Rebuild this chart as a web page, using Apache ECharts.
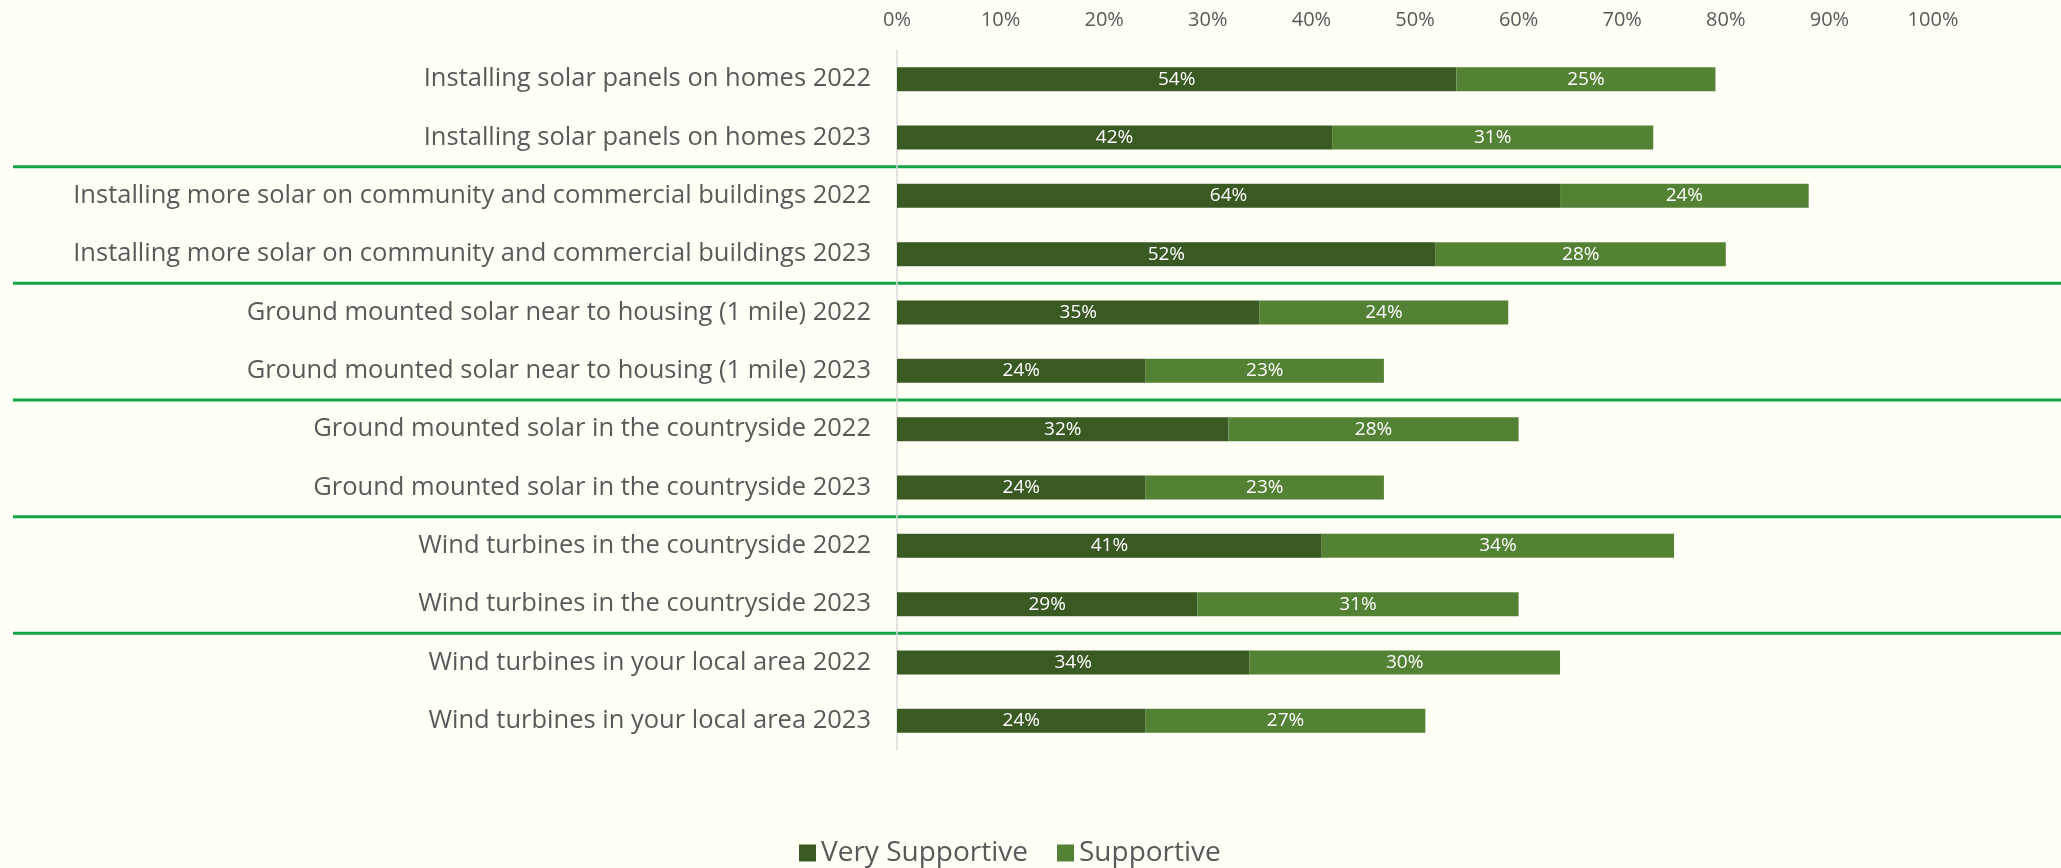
<!DOCTYPE html>
<html>
<head>
<meta charset="utf-8">
<title>Support for solar and wind developments, 2022 vs 2023</title>
<script src="https://cdn.jsdelivr.net/npm/echarts@6/dist/echarts.min.js"></script>
<style>
  html, body { margin: 0; padding: 0; background: #fffff6; }
  #chart { width: 2061px; height: 868px; }
</style>
</head>
<body>
<div id="chart"></div>
<script>
// Survey items, top to bottom
const categories = [
  'Installing solar panels on homes 2022',
  'Installing solar panels on homes 2023',
  'Installing more solar on community and commercial buildings 2022',
  'Installing more solar on community and commercial buildings 2023',
  'Ground mounted solar near to housing (1 mile) 2022',
  'Ground mounted solar near to housing (1 mile) 2023',
  'Ground mounted solar in the countryside 2022',
  'Ground mounted solar in the countryside 2023',
  'Wind turbines in the countryside 2022',
  'Wind turbines in the countryside 2023',
  'Wind turbines in your local area 2022',
  'Wind turbines in your local area 2023'
];

// Share of respondents (%)
const verySupportive = [54, 42, 64, 52, 35, 24, 32, 24, 41, 29, 34, 24];
const supportive     = [25, 31, 24, 28, 24, 23, 28, 23, 34, 31, 30, 27];

const seriesNames = ['Very Supportive', 'Supportive'];

// Percentage axis
const axisMin = 0;
const axisMax = 100;
const axisStep = 10;

const FONT = '"Open Sans"';
const TEXT_GREY = '#595959';

const chart = echarts.init(document.getElementById('chart'));

function barLabel() {
  return {
    show: true,
    position: 'inside',
    formatter: p => p.value + '%',
    color: '#ffffff',
    fontFamily: FONT,
    fontSize: 19
  };
}

chart.setOption({
  backgroundColor: '#fffff6',
  animation: false,
  grid: { left: 897, right: 128, top: 50, bottom: 118 },
  xAxis: {
    type: 'value',
    position: 'top',
    min: axisMin,
    max: axisMax,
    interval: axisStep,
    axisLine: { show: false },
    axisTick: { show: false },
    splitLine: { show: false },
    axisLabel: {
      formatter: '{value}%',
      color: TEXT_GREY,
      fontFamily: FONT,
      fontSize: 20,
      margin: 20
    }
  },
  yAxis: {
    type: 'category',
    inverse: true,
    data: categories,
    axisLine: { show: true, lineStyle: { color: '#d9d9d9', width: 1.5 } },
    axisTick: { show: false },
    axisLabel: {
      color: TEXT_GREY,
      fontFamily: FONT,
      fontSize: 25.5,
      margin: 26,
      padding: [5, 0, 0, 0]
    }
  },
  legend: {
    data: seriesNames,
    left: 794,
    top: 834,
    icon: 'rect',
    itemWidth: 17,
    itemHeight: 17,
    itemGap: 29,
    textStyle: { color: TEXT_GREY, fontFamily: FONT, fontSize: 28 }
  },
  series: [
    {
      name: seriesNames[0],
      type: 'bar',
      stack: 'support',
      barWidth: 24,
      itemStyle: { color: '#3a5a23' },
      label: barLabel(),
      data: verySupportive
    },
    {
      name: seriesNames[1],
      type: 'bar',
      stack: 'support',
      barWidth: 24,
      itemStyle: { color: '#548235' },
      label: barLabel(),
      data: supportive
    }
  ]
});

// Green rules between topics (each topic has a 2022 and a 2023 row)
const topic = name => name.replace(/\s+\d{4}$/, '');
const rules = [];
for (let i = 0; i < categories.length - 1; i++) {
  if (topic(categories[i]) !== topic(categories[i + 1])) {
    const y = (chart.convertToPixel({ yAxisIndex: 0 }, categories[i]) +
               chart.convertToPixel({ yAxisIndex: 0 }, categories[i + 1])) / 2;
    rules.push({
      type: 'line',
      silent: true,
      shape: { x1: 13, y1: y, x2: chart.getWidth(), y2: y },
      style: { stroke: '#12a54a', lineWidth: 3 }
    });
  }
}
chart.setOption({ graphic: rules });
</script>
</body>
</html>
